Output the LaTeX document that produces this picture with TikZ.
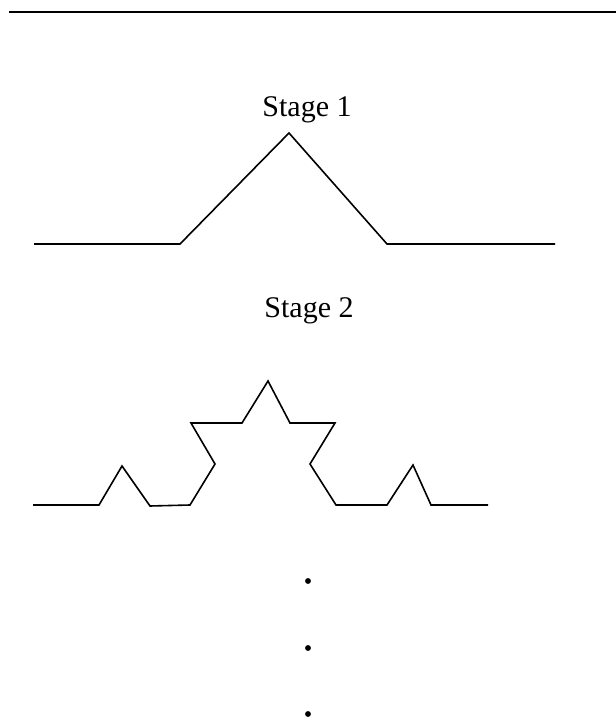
\documentclass[tikz,border=0pt]{standalone}
\usepackage{fontspec}
\setmainfont{Liberation Serif}

\tikzset{every picture/.style={line width=1.2pt}}
\tikzset{stagelabel/.style={font=\fontsize{22.5}{26}\selectfont, anchor=base, inner sep=0pt}}

\begin{document}
\begin{tikzpicture}[x=0.75pt,y=0.75pt,yscale=-1,xscale=1]
	\useasboundingbox (0,0) rectangle (616,720);

	%Straight Lines [rule at top]
	\draw [line width=1.6pt]   (9,12) -- (616,12) ;

	% Text Node
	\node [stagelabel] (stageone) at (307,117) {Stage 1};
	%Shape: Polyline [stage one]
	\draw  [line join=miter]  (34,244) -- (180,244) -- (289,133) -- (387,244) -- (555,244) ;

	% Text Node
	\node [stagelabel] (stagetwo) at (309,317) {Stage 2};
	%Shape: Polyline [stage two]
	\draw  [line join=miter]  (33,505) -- (99,505) -- (122,466) -- (150,506) -- (190,505) -- (215,464) -- (191,423) -- (242,423) -- (268,381) -- (290,423) -- (335,423) -- (310,464) -- (336,505) -- (387,505) -- (413,465) -- (431,505) -- (488,505) ;

	%Shape: Circle [dots]
	\foreach \dy/\nm in {581/dotone, 648/dottwo, 714/dotthree}
		\node [circle, fill=black, inner sep=0pt, minimum size=4.4pt] (\nm) at (308,\dy) {};

\end{tikzpicture}
\end{document}
